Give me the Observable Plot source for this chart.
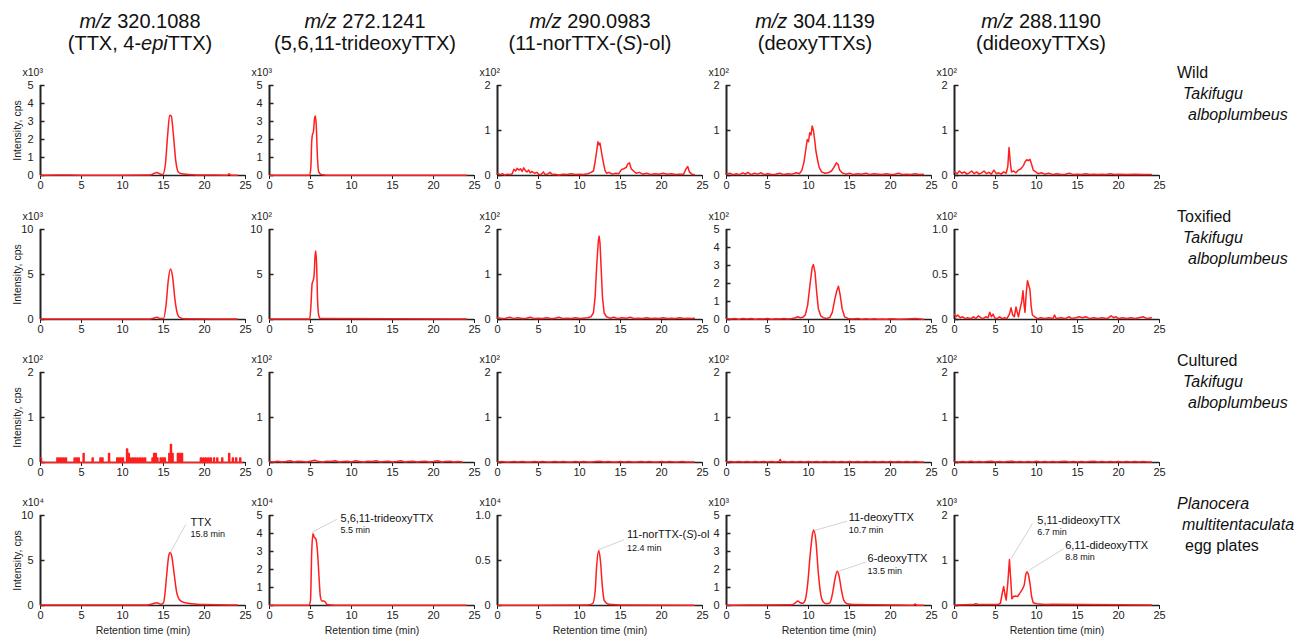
<!DOCTYPE html>
<html><head><meta charset="utf-8">
<script src="https://cdn.jsdelivr.net/npm/d3@7"></script>
<script src="https://cdn.jsdelivr.net/npm/@observablehq/plot@0.6"></script>
<style>
body{margin:0;background:#fff;font-family:"Liberation Sans",Arial,sans-serif;}
#root{position:relative;width:1307px;height:639px;overflow:hidden;background:#fff}
.hdr{position:absolute;width:260px;text-align:center;font-size:20px;line-height:22px;color:#111;white-space:nowrap}
.rowlab{position:absolute;font-size:16px;line-height:21px;color:#111;white-space:nowrap}
.panel{position:absolute}
</style></head><body><div id="root"></div>
<script>
// ---- column headers ----
const mzValues = ["320.1088","272.1241","290.0983","304.1139","288.1190"];
const compoundNames = ["TTX, 4-<i>epi</i>TTX","5,6,11-trideoxyTTX","11-norTTX-(<i>S</i>)-ol","deoxyTTXs","dideoxyTTXs"];
// ---- row labels ----
const rowLabels = [
  ["Wild","<i>Takifugu</i>","<i>alboplumbeus</i>"],
  ["Toxified","<i>Takifugu</i>","<i>alboplumbeus</i>"],
  ["Cultured","<i>Takifugu</i>","<i>alboplumbeus</i>"],
  ["<i>Planocera</i>","<i>multitentaculata</i>","egg plates"]
];
// ---- axis settings per panel [row][col] ----
const yMax  = [[5,5,2,2,2],[10,10,2,5,1],[2,2,2,2,2],[10,5,1,5,2]];
const yStep = [[1,1,1,1,1],[5,5,1,1,0.5],[1,1,1,1,1],[5,1,0.5,1,1]];
const yExp  = [[3,3,2,2,2],[3,2,2,2,2],[2,2,2,2,2],[4,4,4,3,3]];
const xTicks = [0,5,10,15,20,25];

// ---- series: [retention time (min), intensity in panel units] ----
const wildTTX = [[0,0.02],[2,0.03],[5,0.02],[10,0.02],[13,0.03],[13.6,0.06],[14.2,0.17],[14.6,0.08],[14.9,0.05],[15.2,0.5],[15.5,2.2],[15.75,3.35],[15.95,3.3],[16.2,2.3],[16.5,0.8],[16.8,0.2],[17.2,0.1],[18,0.06],[19,0.03],[22.8,0.02],[23,0.1],[23.2,0.02],[24,0.02]];
const wildTri = [[0,0.01],[4.9,0.02],[5.05,0.5],[5.15,1.9],[5.25,2.3],[5.35,2.4],[5.5,3.2],[5.6,3.3],[5.7,2.8],[5.85,1.0],[6.0,0.2],[6.3,0.05],[7,0.02],[24,0.01]];
const wildNor = [[0,0.05],[0.3,0.02],[0.6,0.04],[0.9,0.01],[1.2,0.03],[1.5,0.02],[1.8,0.04],[2.0,0.14],[2.2,0.1],[2.4,0.16],[2.6,0.12],[2.8,0.15],[3.0,0.09],[3.2,0.17],[3.4,0.11],[3.6,0.08],[3.8,0.12],[4.0,0.06],[4.2,0.09],[4.5,0.05],[4.8,0.07],[5.0,0.03],[5.3,0.02],[5.6,0.08],[5.8,0.02],[6.2,0.04],[6.4,0.07],[6.7,0.02],[7.0,0.03],[7.5,0.01],[8.0,0.03],[8.5,0.02],[9.0,0.04],[9.5,0.02],[10.0,0.03],[10.5,0.02],[11.0,0.04],[11.4,0.07],[11.7,0.1],[11.9,0.3],[12.1,0.55],[12.25,0.75],[12.4,0.68],[12.5,0.72],[12.7,0.5],[12.9,0.3],[13.1,0.12],[13.3,0.05],[13.6,0.07],[14.0,0.03],[14.4,0.05],[14.8,0.04],[15.1,0.13],[15.4,0.15],[15.7,0.18],[15.9,0.26],[16.1,0.28],[16.3,0.15],[16.6,0.1],[16.9,0.05],[17.3,0.07],[17.7,0.03],[18.2,0.05],[18.7,0.02],[19.2,0.04],[19.7,0.03],[20.2,0.05],[20.7,0.03],[21.2,0.04],[21.7,0.02],[22.2,0.03],[22.7,0.03],[23.0,0.15],[23.2,0.2],[23.4,0.08],[23.7,0.03],[24.0,0.02]];
const wildDeoxy = [[0,0.03],[0.4,0.05],[0.8,0.02],[1.2,0.04],[1.6,0.02],[2.0,0.06],[2.3,0.03],[2.6,0.07],[3.0,0.02],[3.4,0.05],[3.8,0.03],[4.2,0.06],[4.6,0.02],[5.0,0.04],[5.5,0.02],[6.0,0.03],[6.5,0.05],[7.0,0.02],[7.5,0.04],[8.0,0.03],[8.5,0.06],[8.9,0.04],[9.2,0.12],[9.45,0.3],[9.65,0.55],[9.85,0.8],[10.0,0.75],[10.15,0.95],[10.3,0.9],[10.45,1.1],[10.6,1.0],[10.75,0.8],[10.9,0.55],[11.1,0.35],[11.3,0.18],[11.6,0.08],[12.0,0.05],[12.4,0.06],[12.8,0.1],[13.1,0.18],[13.4,0.28],[13.6,0.25],[13.8,0.12],[14.1,0.06],[14.5,0.03],[15.0,0.05],[15.5,0.02],[16.0,0.04],[16.5,0.03],[17.0,0.05],[17.5,0.02],[18.0,0.04],[18.5,0.03],[19.0,0.02],[19.5,0.04],[20.0,0.02],[20.5,0.03],[21.0,0.05],[21.5,0.02],[22.0,0.03],[22.5,0.02],[23.0,0.04],[23.5,0.02],[24.0,0.03]];
const wildDideoxy = [[0,0.08],[0.3,0.04],[0.6,0.1],[0.9,0.05],[1.2,0.08],[1.5,0.03],[1.8,0.06],[2.1,0.1],[2.4,0.04],[2.7,0.08],[3.0,0.03],[3.3,0.06],[3.6,0.1],[3.9,0.04],[4.2,0.07],[4.5,0.03],[4.8,0.12],[5.1,0.04],[5.4,0.06],[5.7,0.03],[6.0,0.08],[6.3,0.05],[6.5,0.2],[6.65,0.62],[6.8,0.3],[6.95,0.08],[7.2,0.1],[7.5,0.06],[7.8,0.12],[8.1,0.15],[8.4,0.22],[8.6,0.3],[8.8,0.35],[9.0,0.33],[9.2,0.36],[9.4,0.25],[9.6,0.12],[9.9,0.08],[10.2,0.04],[10.6,0.06],[11.0,0.03],[11.5,0.05],[12.0,0.02],[12.5,0.04],[13.0,0.02],[13.5,0.03],[14.0,0.05],[14.5,0.02],[15.0,0.03],[15.5,0.02],[16.0,0.04],[16.5,0.02],[17.0,0.03],[17.5,0.02],[18.0,0.03],[18.5,0.02],[19.0,0.04],[19.5,0.02],[20.0,0.03],[21.0,0.02],[22.0,0.03],[23.0,0.02],[24.0,0.02]];

const toxTTX = [[0,0.05],[5,0.05],[13,0.05],[13.8,0.15],[14.2,0.25],[14.6,0.1],[15.0,0.1],[15.3,1.5],[15.6,4.5],[15.85,5.6],[16.1,4.8],[16.4,2.2],[16.7,0.6],[17.0,0.2],[17.5,0.08],[24,0.05]];
const toxTri = [[0,0.05],[4.9,0.05],[5.05,1.5],[5.2,4.0],[5.35,4.4],[5.45,5.0],[5.55,7.0],[5.65,7.6],[5.75,6.0],[5.85,2.5],[6.0,0.5],[6.2,0.1],[24,0.05]];
const toxNor = [[0,0.04],[0.5,0.02],[1.0,0.03],[1.5,0.05],[2.0,0.02],[2.5,0.04],[3.0,0.02],[3.5,0.03],[4.0,0.05],[4.5,0.02],[5.0,0.03],[5.5,0.02],[6.0,0.04],[6.5,0.02],[7.0,0.03],[7.5,0.05],[8.0,0.02],[8.5,0.03],[9.0,0.02],[9.5,0.04],[10.0,0.02],[10.5,0.03],[11.0,0.04],[11.4,0.06],[11.7,0.15],[11.9,0.5],[12.1,1.2],[12.3,1.75],[12.4,1.85],[12.5,1.7],[12.65,1.1],[12.8,0.5],[13.0,0.15],[13.3,0.06],[13.7,0.03],[14.2,0.05],[14.7,0.02],[15.2,0.04],[15.7,0.03],[16.2,0.05],[16.7,0.02],[17.2,0.03],[17.7,0.02],[18.2,0.04],[18.7,0.02],[19.2,0.03],[19.7,0.02],[20.2,0.04],[20.7,0.02],[21.2,0.03],[21.7,0.02],[22.2,0.04],[22.7,0.02],[23.2,0.03],[23.7,0.02],[24.0,0.03]];
const toxDeoxy = [[0,0.05],[0.5,0.03],[1,0.06],[1.5,0.02],[2,0.05],[2.5,0.03],[3,0.06],[3.5,0.02],[4,0.04],[4.5,0.03],[5,0.05],[5.5,0.02],[6,0.04],[6.5,0.03],[7,0.05],[7.5,0.03],[8,0.06],[8.4,0.1],[8.7,0.15],[9.0,0.1],[9.3,0.12],[9.6,0.25],[9.9,0.8],[10.2,2.0],[10.45,2.9],[10.6,3.05],[10.8,2.6],[11.0,1.5],[11.2,0.6],[11.5,0.2],[11.8,0.1],[12.2,0.06],[12.6,0.12],[12.9,0.4],[13.2,1.1],[13.45,1.6],[13.65,1.85],[13.85,1.4],[14.1,0.6],[14.4,0.15],[14.8,0.06],[15.3,0.03],[16,0.05],[16.5,0.02],[17,0.04],[17.5,0.02],[18,0.04],[18.5,0.02],[19,0.03],[19.5,0.02],[20,0.04],[21,0.02],[22,0.03],[23,0.05],[24,0.02]];
const toxDideoxy = [[0,0.06],[0.2,0.03],[0.4,0.05],[0.7,0.02],[1.0,0.03],[1.3,0.01],[1.6,0.02],[2.0,0.01],[2.3,0.03],[2.6,0.01],[2.9,0.04],[3.2,0.02],[3.5,0.01],[3.8,0.03],[4.1,0.02],[4.3,0.08],[4.5,0.03],[4.7,0.06],[4.9,0.02],[5.2,0.01],[5.5,0.03],[5.8,0.01],[6.1,0.02],[6.4,0.01],[6.7,0.06],[6.9,0.13],[7.1,0.05],[7.3,0.03],[7.5,0.14],[7.65,0.08],[7.8,0.03],[8.0,0.12],[8.2,0.2],[8.35,0.32],[8.5,0.15],[8.6,0.08],[8.75,0.3],[8.9,0.43],[9.05,0.38],[9.2,0.33],[9.35,0.15],[9.5,0.05],[9.8,0.03],[10.1,0.01],[10.5,0.02],[11.0,0.01],[11.5,0.02],[12.0,0.01],[12.2,0.05],[12.4,0.01],[13.0,0.02],[13.5,0.01],[14.0,0.03],[14.3,0.01],[14.8,0.02],[15.2,0.03],[15.6,0.02],[16.0,0.03],[16.5,0.01],[17.0,0.02],[17.5,0.01],[18.0,0.02],[18.5,0.01],[18.8,0.02],[19.1,0.04],[19.4,0.02],[19.7,0.03],[20.0,0.01],[20.5,0.02],[21.0,0.01],[21.5,0.02],[22.0,0.01],[22.5,0.02],[23.0,0.03],[23.5,0.01],[24.0,0.02]];

// cultured TTX: digitised pulses [start time, height]
const culTTXPulses = [[0,0.1],[2.0,0.1],[2.25,0.1],[2.5,0.1],[2.75,0.1],[3.05,0.1],[4.1,0.1],[4.35,0.1],[4.6,0.1],[5.2,0.2],[6.3,0.1],[7.25,0.1],[7.5,0.1],[8.3,0.2],[9.3,0.1],[9.5,0.1],[9.75,0.1],[10.0,0.1],[10.5,0.3],[10.7,0.2],[10.9,0.1],[11.2,0.1],[11.5,0.1],[11.8,0.1],[12.1,0.1],[12.4,0.1],[12.7,0.1],[13.6,0.1],[13.8,0.2],[14.0,0.2],[14.2,0.1],[14.6,0.1],[14.85,0.1],[15.1,0.1],[15.65,0.2],[15.85,0.4],[16.05,0.2],[16.7,0.2],[16.9,0.2],[17.2,0.2],[19.5,0.1],[19.8,0.1],[20.1,0.1],[20.4,0.1],[20.7,0.1],[21.1,0.1],[21.5,0.1],[22.1,0.1],[22.95,0.2],[23.4,0.1],[23.8,0.1],[24.3,0.1]];
const culTri = [[0,0.02],[0.5,0.01],[1,0.03],[1.5,0.01],[2,0.02],[2.5,0.04],[3,0.01],[3.5,0.03],[4,0.02],[4.5,0.01],[5,0.03],[5.5,0.05],[6,0.02],[6.5,0.01],[7,0.03],[7.5,0.02],[8,0.04],[8.5,0.01],[9,0.02],[9.5,0.03],[10,0.01],[10.5,0.04],[11,0.02],[11.5,0.01],[12,0.03],[12.5,0.02],[13,0.04],[13.5,0.01],[14,0.02],[14.5,0.03],[15,0.01],[15.5,0.02],[16,0.04],[16.5,0.01],[17,0.02],[17.5,0.03],[18,0.01],[18.5,0.02],[19,0.03],[19.5,0.01],[20,0.02],[20.5,0.04],[21,0.01],[21.5,0.02],[22,0.03],[22.5,0.01],[23,0.02],[23.5,0.01]];
const culNor = [[0,0.01],[0.5,0.02],[1,0.01],[1.5,0.01],[2,0.02],[2.5,0.01],[3,0.02],[3.5,0.01],[4,0.01],[4.5,0.02],[5,0.01],[5.5,0.02],[6,0.01],[6.5,0.01],[7,0.02],[7.5,0.01],[8,0.02],[8.5,0.01],[9,0.01],[9.5,0.02],[10,0.01],[10.5,0.02],[11,0.01],[11.5,0.01],[12,0.02],[12.5,0.03],[13,0.01],[13.5,0.02],[14,0.01],[14.5,0.01],[15,0.02],[15.5,0.01],[16,0.02],[16.5,0.01],[17,0.01],[17.5,0.02],[18,0.01],[18.5,0.02],[19,0.01],[19.5,0.01],[20,0.02],[20.5,0.01],[21,0.02],[21.5,0.01],[22,0.01],[22.5,0.02],[23,0.01],[23.5,0.01],[24,0.01]];
const culDeoxy = [[0,0.01],[0.5,0.02],[1,0.01],[1.5,0.02],[2,0.01],[2.5,0.02],[3,0.01],[3.5,0.02],[4,0.01],[4.5,0.02],[5,0.01],[5.5,0.02],[6,0.01],[6.4,0.02],[6.55,0.07],[6.7,0.01],[7,0.02],[7.5,0.01],[8,0.02],[8.5,0.01],[9,0.02],[9.5,0.01],[10,0.02],[10.5,0.01],[11,0.02],[11.5,0.01],[12,0.02],[12.5,0.01],[13,0.02],[13.5,0.01],[14,0.02],[14.5,0.01],[15,0.02],[15.5,0.01],[16,0.02],[16.5,0.01],[17,0.02],[17.5,0.01],[18,0.02],[18.5,0.01],[19,0.02],[19.5,0.01],[20,0.02],[20.5,0.01],[21,0.02],[21.5,0.01],[22,0.02],[22.5,0.01],[23,0.02],[23.5,0.01],[24,0.01]];
const culDideoxy = [[0,0.02],[0.5,0.01],[1,0.02],[1.5,0.01],[2,0.03],[2.5,0.01],[3,0.02],[3.5,0.01],[4,0.02],[4.5,0.03],[5,0.01],[5.5,0.02],[6,0.01],[6.5,0.02],[7,0.03],[7.5,0.01],[8,0.02],[8.5,0.01],[9,0.02],[9.5,0.01],[10,0.03],[10.5,0.01],[11,0.02],[11.5,0.01],[12,0.02],[12.5,0.01],[13,0.02],[13.5,0.03],[14,0.01],[14.5,0.02],[15,0.01],[15.5,0.02],[16,0.01],[16.5,0.02],[17,0.03],[17.5,0.01],[18,0.02],[18.5,0.01],[19,0.02],[19.5,0.01],[20,0.02],[20.5,0.01],[21,0.02],[21.5,0.01],[22,0.02],[22.5,0.01],[23,0.02],[23.5,0.01],[24,0.01]];

const eggTTX = [[0,0.05],[5,0.05],[13,0.06],[13.7,0.2],[14.2,0.3],[14.6,0.15],[15.0,0.3],[15.2,1.5],[15.4,3.5],[15.65,5.6],[15.8,5.9],[16.0,5.5],[16.3,3.5],[16.6,1.5],[16.9,0.7],[17.3,0.4],[18,0.25],[19,0.15],[20,0.1],[23,0.05],[24,0.05]];
const eggTri = [[0,0.02],[4.8,0.02],[5.0,0.3],[5.15,3.0],[5.3,4.0],[5.45,3.8],[5.65,3.7],[5.85,3.0],[6.05,1.5],[6.2,0.5],[6.4,0.25],[6.6,0.25],[6.8,0.2],[7.0,0.05],[8,0.02],[24,0.02]];
const eggNor = [[0,0.003],[11,0.005],[11.6,0.02],[11.9,0.15],[12.1,0.45],[12.35,0.61],[12.55,0.5],[12.8,0.2],[13.0,0.06],[13.4,0.02],[14,0.01],[15,0.005],[24,0.003]];
const eggDeoxy = [[0,0.02],[8,0.04],[8.4,0.15],[8.7,0.25],[9.0,0.15],[9.3,0.12],[9.6,0.3],[9.9,1.2],[10.2,2.8],[10.5,4.0],[10.65,4.2],[10.9,3.6],[11.2,1.8],[11.5,0.6],[11.8,0.2],[12.2,0.1],[12.6,0.15],[12.9,0.6],[13.2,1.4],[13.5,1.9],[13.7,1.7],[14.0,0.9],[14.3,0.3],[14.7,0.1],[15.5,0.05],[22.8,0.02],[23,0.08],[23.2,0.02],[24,0.02]];
const eggDideoxy = [[0,0.01],[2.3,0.02],[2.6,0.04],[3,0.02],[5.3,0.02],[5.6,0.05],[5.85,0.3],[6.0,0.42],[6.15,0.25],[6.3,0.12],[6.5,0.5],[6.7,1.02],[6.85,0.6],[7.0,0.15],[7.2,0.2],[7.4,0.21],[7.7,0.2],[8.0,0.28],[8.3,0.37],[8.5,0.45],[8.7,0.7],[8.85,0.75],[9.0,0.7],[9.2,0.5],[9.4,0.2],[9.6,0.06],[10,0.04],[11,0.02],[12,0.03],[24,0.01]];

// ---- peak annotations in bottom row ----
const annotations = [
  {c:0, px:15.85, py:5.9, lx:17.7, ly:9.0, tx:18.3, ty:9.2, sy:7.9, label:"TTX", sub:"15.8 min"},
  {c:1, px:5.2, py:4.07, lx:8.25, ly:4.8, tx:8.66, ty:4.85, sy:4.2, label:"5,6,11-trideoxyTTX", sub:"5.5 min"},
  {c:2, px:12.35, py:0.62, lx:15.4, ly:0.73, tx:15.8, ty:0.785, sy:0.64, label:"11-norTTX-(S)-ol", sub:"12.4 min"},
  {c:3, px:10.7, py:4.17, lx:14.7, ly:4.68, tx:14.9, ty:4.87, sy:4.18, label:"11-deoxyTTX", sub:"10.7 min"},
  {c:3, px:13.7, py:1.91, lx:17.0, ly:2.41, tx:17.2, ty:2.59, sy:1.9, label:"6-deoxyTTX", sub:"13.5 min"},
  {c:4, px:6.9, py:1.04, lx:9.5, ly:1.82, tx:10.1, ty:1.9, sy:1.63, label:"5,11-dideoxyTTX", sub:"6.7 min"},
  {c:4, px:9.07, py:0.78, lx:13.3, ly:1.26, tx:13.5, ty:1.33, sy:1.07, label:"6,11-dideoxyTTX", sub:"8.8 min"}
];

const culTTX = [];
culTTXPulses.forEach(([t,h]) => { culTTX.push([t,h]); culTTX.push([t+0.12,0]); });
culTTX.push([24.6,0]);

const series = [
  [wildTTX, wildTri, wildNor, wildDeoxy, wildDideoxy],
  [toxTTX, toxTri, toxNor, toxDeoxy, toxDideoxy],
  [culTTX, culTri, culNor, culDeoxy, culDideoxy],
  [eggTTX, eggTri, eggNor, eggDeoxy, eggDideoxy]
];
const smooth = [[1,1,0,0,0],[1,1,0,0,0],[0,0,0,0,0],[1,1,1,1,0]];

// ---- layout ----
const colX = [40, 269, 497, 726, 954];
const rowTop = [85, 229, 372, 515];
const frameW = 205, frameH = 90;
const hdrCenters = [140, 365, 590, 815, 1041];
const rowLabelY = [72, 216, 360, 503];
const sup = {2:"²",3:"³",4:"⁴"};

const root = document.getElementById("root");

mzValues.forEach((mz, i) => {
  const d = document.createElement("div");
  d.className = "hdr";
  d.style.left = (hdrCenters[i] - 130) + "px";
  d.style.top = "10px";
  d.innerHTML = `<i>m/z</i> ${mz}<br>(${compoundNames[i]})`;
  root.appendChild(d);
});

rowLabels.forEach((lines, r) => {
  const indents = r === 3 ? [0, 5, 8] : [0, 6, 11];
  lines.forEach((txt, k) => {
    const d = document.createElement("div");
    d.className = "rowlab";
    d.style.left = (1177 + indents[k]) + "px";
    d.style.top = (rowLabelY[r] - 10.5 + k * 21) + "px";
    d.innerHTML = txt;
    root.appendChild(d);
  });
});

for (let r = 0; r < 4; r++) {
  for (let c = 0; c < 5; c++) {
    const mL = 40, mR = 30, mT = 25, mB = r === 3 ? 40 : 24;
    const ym = yMax[r][c], st = yStep[r][c];
    const yt = d3.range(0, ym + st / 2, st);
    const fmt = d => d === 0 ? "0" : (ym === 1 ? d.toFixed(1) : String(d));
    const data = series[r][c].map(([t, v]) => ({t, v}));
    const marks = [
      Plot.ruleY([0], {stroke: "#222", strokeWidth: 1.5}),
      Plot.ruleX([0], {stroke: "#222", strokeWidth: 2}),
      Plot.ruleY(yt, {x1: () => 0, x2: () => 0.55, stroke: "#222", strokeWidth: 1.5}),
      Plot.axisY(yt, {tickSize: 0, tickPadding: 7, tickFormat: fmt, fontSize: 11, label: null}),
      Plot.axisX(xTicks, {tickSize: 4, tickPadding: 2, fontSize: 11, label: null}),
      Plot.text(["x10" + sup[yExp[r][c]]], {text: d => d, frameAnchor: "top-left", dx: -18, dy: -13, textAnchor: "start", lineAnchor: "middle", fontSize: 10.5, fill: "#222"}),
      Plot.line(data, {x: "t", y: "v", stroke: "#ff1f1f", strokeWidth: 1.5,
        curve: r === 2 && c === 0 ? "step-after" : (smooth[r][c] ? "monotone-x" : "linear")})
    ];
    if (c === 0) marks.push(Plot.text(["Intensity, cps"], {text: d => d, frameAnchor: "left", dx: -23, rotate: -90, textAnchor: "middle", lineAnchor: "middle", fontSize: 10.5, fill: "#222"}));
    if (r === 3) {
      marks.push(Plot.text(["Retention time (min)"], {text: d => d, frameAnchor: "bottom", dy: 25, textAnchor: "middle", lineAnchor: "middle", fontSize: 10.5, fill: "#222"}));
      const ann = annotations.filter(a => a.c === c);
      marks.push(Plot.link(ann, {x1: "px", y1: "py", x2: "lx", y2: "ly", stroke: "#c8c8c8", strokeWidth: 0.8}));
      marks.push(Plot.text(ann, {x: "tx", y: "ty", text: "label", textAnchor: "start", fontSize: 11, fill: "#111"}));
      marks.push(Plot.text(ann, {x: "tx", y: "sy", text: "sub", textAnchor: "start", fontSize: 9, fill: "#111"}));
    }
    const svg = Plot.plot({
      width: mL + frameW + mR, height: mT + frameH + mB,
      marginLeft: mL, marginRight: mR, marginTop: mT, marginBottom: mB,
      x: {domain: [0, 25]}, y: {domain: [0, ym]},
      style: {fontFamily: "Liberation Sans, Arial, sans-serif", fontSize: "10px", background: "transparent", overflow: "visible", color: "#222", maxWidth: "none"},
      marks
    });
    svg.querySelectorAll("text").forEach(t => {
      if (t.textContent === "11-norTTX-(S)-ol") t.innerHTML = '11-norTTX-(<tspan font-style="italic">S</tspan>)-ol';
    });
    const wrap = document.createElement("div");
    wrap.className = "panel";
    wrap.style.left = (colX[c] - mL) + "px";
    wrap.style.top = (rowTop[r] - mT) + "px";
    wrap.appendChild(svg);
    root.appendChild(wrap);
  }
}
</script></body></html>
